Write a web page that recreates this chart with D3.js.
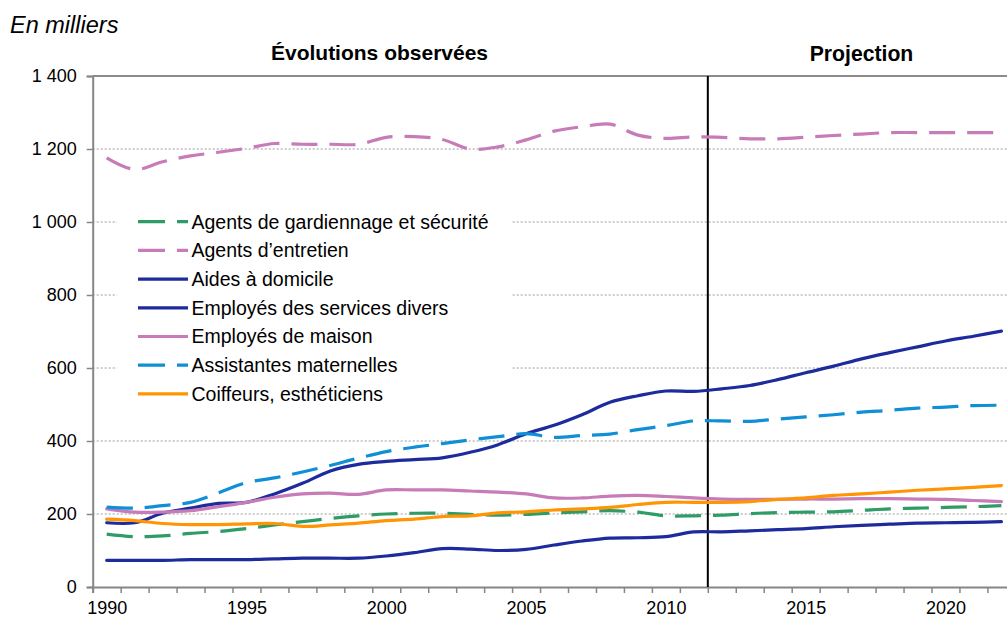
<!DOCTYPE html>
<html><head><meta charset="utf-8">
<script src="https://cdn.jsdelivr.net/npm/d3@7"></script>
<style>
body{margin:0;background:#fff}
svg{display:block;font-family:"Liberation Sans",Arial,sans-serif}
</style>
</head><body>
<svg id="c" width="1007" height="619"></svg>
<script>
const years = [1990,1991,1992,1993,1994,1995,1996,1997,1998,1999,2000,2001,2002,2003,2004,2005,2006,2007,2008,2009,2010,2011,2012,2013,2014,2015,2016,2017,2018,2019,2020,2021,2022];
const xLabelYears = [1990,1995,2000,2005,2010,2015,2020];
const yTicks = [0,200,400,600,800,1000,1200,1400];
const yTickLabels = ["0","200","400","600","800","1 000","1 200","1 400"];
const projectionStartYear = 2012;

const gardiennage = [145,138,140,147,152,160,170,179,188,195,200,202,202,199,197,199,203,206,209,205,195,195,197,201,204,205,206,210,214,216,218,220,223];
const entretien = [1176,1144,1165,1181,1191,1202,1215,1213,1213,1213,1232,1234,1226,1200,1206,1225,1249,1261,1268,1238,1229,1233,1232,1228,1228,1232,1237,1241,1245,1245,1245,1245,1245];
const aidesDomicile = [73,73,73,75,75,75,77,79,79,79,85,94,105,104,100,103,115,126,134,135,138,151,151,154,157,160,165,169,172,175,176,177,179];
const servicesDivers = [176,176,202,216,229,232,255,284,318,336,344,349,354,369,390,420,443,472,506,524,537,536,543,552,568,587,605,625,642,658,674,687,701];
const employesMaison = [214,205,205,209,220,232,246,255,257,254,266,266,266,263,260,255,244,244,249,251,248,244,241,240,240,241,241,242,242,241,240,237,234];
const assistantes = [219,216,223,232,258,286,299,315,333,353,371,383,393,403,412,420,410,415,419,431,442,455,455,454,460,466,472,479,484,490,493,497,498];
const coiffeurs = [186,182,174,171,171,173,174,166,170,175,182,186,193,195,203,206,211,214,218,226,232,232,232,234,240,244,251,255,260,265,269,273,278];

const seriesNames = ["Agents de gardiennage et sécurité","Agents d’entretien","Aides à domicile","Employés des services divers","Employés de maison","Assistantes maternelles","Coiffeurs, esthéticiens"];
const seriesValues = [gardiennage, entretien, aidesDomicile, servicesDivers, employesMaison, assistantes, coiffeurs];
const seriesColors = ["#2f9c68","#c77bb8","#1d2b9c","#1d2b9c","#c77bb8","#0e8fd6","#ff9505"];
const seriesDashed = [true,true,false,false,false,true,false];

(function(){
const svg = d3.select("#c");
const W = 1007;
const plotLeft = 92.7, plotBottom = 587, plotTop = 76;
const band = 27.96;
const x = d3.scaleLinear().domain([years[0]-0.5, years[years.length-1]+0.5]).range([plotLeft, plotLeft + band*years.length]);
const y = d3.scaleLinear().domain([0,1400]).range([plotBottom, plotTop]);
const FONT = "Liberation Sans, Arial, sans-serif";

// gridlines
svg.append("g").selectAll("line").data(yTicks.filter(v => v > 0)).join("line")
  .attr("x1", plotLeft).attr("x2", W)
  .attr("y1", d => y(d)).attr("y2", d => y(d))
  .attr("stroke", d => d === 1400 ? "#8c8c8c" : "#9a9a9a")
  .attr("stroke-width", d => d === 1400 ? 2 : 1)
  .attr("stroke-dasharray", d => d === 1400 ? null : "2,2");

// legend background
svg.append("rect").attr("x", 117).attr("y", 205).attr("width", 395).attr("height", 205).attr("fill", "#fff");

// y axis
const yAxis = svg.append("g").attr("transform", `translate(${plotLeft},0)`)
  .call(d3.axisLeft(y).tickValues(yTicks).tickSize(6).tickPadding(10)
    .tickFormat((d,i) => yTickLabels[i]));
yAxis.select(".domain").attr("stroke", "#868686").attr("stroke-width", 2);
yAxis.selectAll(".tick line").attr("stroke", "#868686").attr("stroke-width", 1.5);
yAxis.selectAll("text").attr("font-size", 18).attr("fill", "#000").attr("font-family", FONT);

// x axis ticks at category boundaries
const boundaries = years.map(v => v - 0.5);
const xAxis = svg.append("g").attr("transform", `translate(0,${plotBottom})`)
  .call(d3.axisBottom(x).tickValues(boundaries).tickSize(6).tickFormat(""));
xAxis.select(".domain").attr("stroke", "#868686").attr("stroke-width", 2);
xAxis.selectAll(".tick line").attr("stroke", "#868686").attr("stroke-width", 1.5);

const xLab = svg.append("g").attr("transform", `translate(0,${plotBottom})`)
  .call(d3.axisBottom(x).tickValues(xLabelYears).tickSize(0).tickPadding(14).tickFormat(d3.format("d")));
xLab.select(".domain").remove();
xLab.selectAll("text").attr("font-size", 18).attr("fill", "#000").attr("font-family", FONT);

// projection separator
svg.append("line").attr("x1", x(projectionStartYear - 0.5)).attr("x2", x(projectionStartYear - 0.5))
  .attr("y1", plotTop).attr("y2", plotBottom).attr("stroke", "#000").attr("stroke-width", 2);

// lines
const line = d3.line().x((d,i) => x(years[i])).y(d => y(d)).curve(d3.curveCatmullRom.alpha(0.5));
seriesValues.forEach((vals, k) => {
  svg.append("path").datum(vals).attr("d", line)
    .attr("fill", "none").attr("stroke", seriesColors[k]).attr("stroke-width", 3.2)
    .attr("stroke-linejoin", "round")
    .attr("stroke-linecap", seriesDashed[k] ? "butt" : "round")
    .attr("stroke-dasharray", seriesDashed[k] ? "26,12" : null);
});

// legend
const lg = svg.append("g");
seriesNames.forEach((name, k) => {
  const yy = 221.7 + k*28.7;
  lg.append("line").attr("x1", 138).attr("x2", 188).attr("y1", yy).attr("y2", yy)
    .attr("stroke", seriesColors[k]).attr("stroke-width", 3.2)
    .attr("stroke-dasharray", seriesDashed[k] ? "27,12" : null);
  lg.append("text").attr("x", 191.5).attr("y", yy).attr("dy", "0.35em")
    .attr("font-size", 19.5).attr("fill", "#000").text(name);
});

// titles
svg.append("text").attr("x", 10).attr("y", 33).attr("font-size", 23.5).attr("font-style", "italic").attr("fill", "#000").text("En milliers");
svg.append("text").attr("x", 379.5).attr("y", 60).attr("text-anchor", "middle").attr("font-size", 21).attr("font-weight", "bold").attr("fill", "#000").text("Évolutions observées");
svg.append("text").attr("x", 861.5).attr("y", 60.5).attr("text-anchor", "middle").attr("font-size", 21.2).attr("font-weight", "bold").attr("fill", "#000").text("Projection");
})();
</script>
</body></html>
